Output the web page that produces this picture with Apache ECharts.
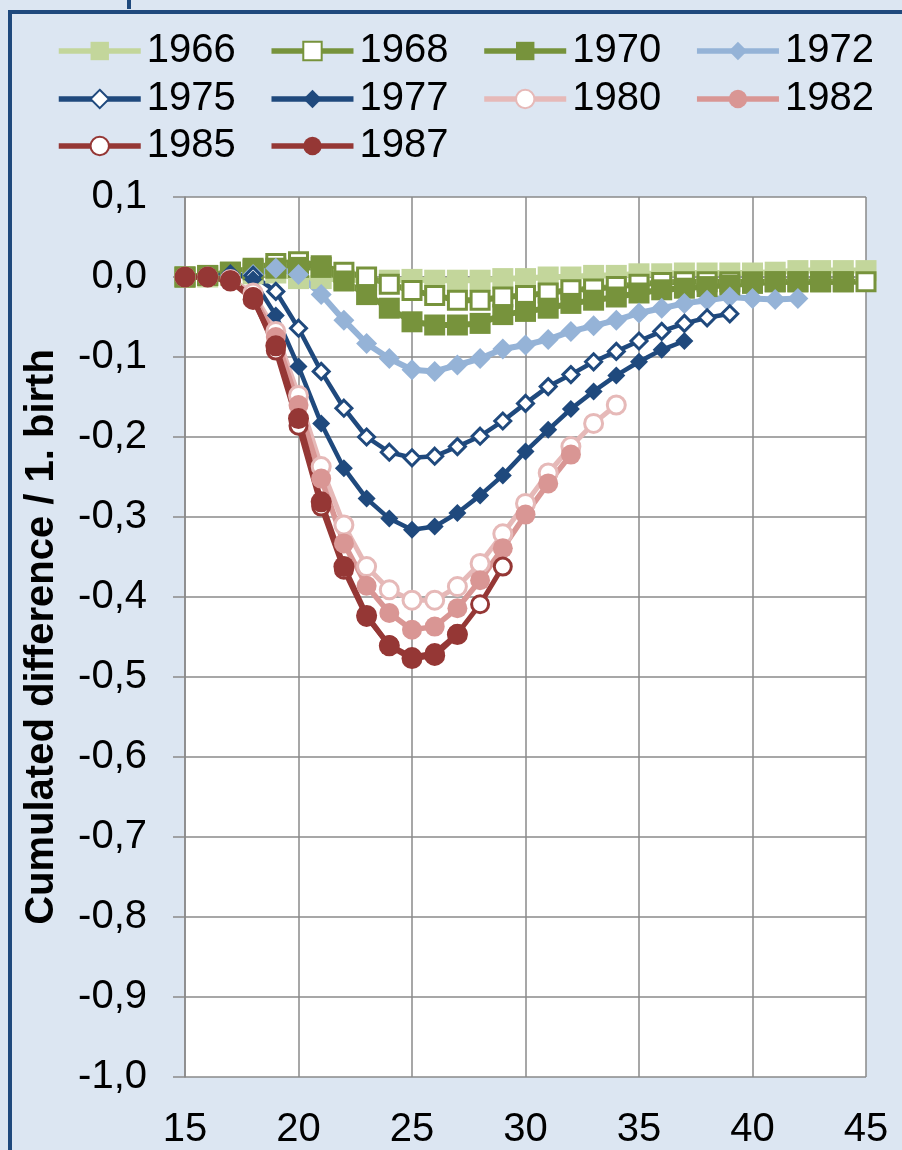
<!DOCTYPE html>
<html><head><meta charset="utf-8">
<script src="https://cdn.jsdelivr.net/npm/echarts@6/dist/echarts.min.js"></script>
<style>html,body{margin:0;padding:0;background:#dce6f2;}#c{width:902px;height:1150px;}</style>
</head><body><div id="c"></div>
<script>
// ---- data ----
const ages = [15,16,17,18,19,20,21,22,23,24,25,26,27,28,29,30,31,32,33,34,35,36,37,38,39,40,41,42,43,44,45];
const xTickLabels = ['15','20','25','30','35','40','45'];
const yTickLabels = ['0,1','0,0','-0,1','-0,2','-0,3','-0,4','-0,5','-0,6','-0,7','-0,8','-0,9','-1,0'];
const cohorts = ['1966','1968','1970','1972','1975','1977','1980','1982','1985','1987'];
const legendRows = [['1966','1968','1970','1972'],['1975','1977','1980','1982'],['1985','1987']];
const yAxisTitle = 'Cumulated difference / 1. birth';

const s1966 = [0,0,0.002,0.004,0.005,-0.002,-0.002,-0.003,-0.004,-0.004,-0.003,-0.004,-0.004,-0.004,-0.002,-0.002,0,0,0.002,0.002,0.004,0.004,0.005,0.005,0.005,0.005,0.006,0.008,0.008,0.008,0.008];
const s1968 = [0,0.002,0.006,0.011,0.017,0.019,0.014,0.006,0,-0.009,-0.017,-0.023,-0.029,-0.029,-0.025,-0.023,-0.02,-0.016,-0.015,-0.012,-0.009,-0.007,-0.006,-0.006,-0.006,-0.006,-0.006,-0.006,-0.006,-0.006,-0.006];
const s1970 = [0,0.002,0.006,0.009,0.011,0.012,0.012,-0.005,-0.022,-0.039,-0.056,-0.06,-0.06,-0.058,-0.047,-0.043,-0.039,-0.033,-0.029,-0.025,-0.02,-0.016,-0.014,-0.012,-0.01,-0.008,-0.006,-0.006,-0.006,-0.006];
const s1972 = [0,0,0.002,0.003,0.011,0.003,-0.022,-0.054,-0.083,-0.102,-0.116,-0.118,-0.11,-0.102,-0.09,-0.085,-0.078,-0.068,-0.061,-0.054,-0.045,-0.039,-0.033,-0.029,-0.025,-0.027,-0.028,-0.027];
const s1975 = [0,0,0.002,0.002,-0.018,-0.064,-0.118,-0.164,-0.2,-0.219,-0.226,-0.224,-0.212,-0.199,-0.18,-0.158,-0.137,-0.122,-0.106,-0.093,-0.08,-0.068,-0.058,-0.051,-0.046];
const s1977 = [0,0,0.005,-0.003,-0.048,-0.112,-0.183,-0.239,-0.277,-0.302,-0.316,-0.312,-0.295,-0.273,-0.248,-0.218,-0.191,-0.165,-0.143,-0.123,-0.106,-0.091,-0.08];
const s1980 = [0,0,-0.003,-0.02,-0.068,-0.148,-0.237,-0.31,-0.362,-0.391,-0.404,-0.404,-0.387,-0.358,-0.321,-0.283,-0.245,-0.212,-0.183,-0.16];
const s1982 = [0,0,-0.004,-0.025,-0.075,-0.16,-0.252,-0.333,-0.386,-0.42,-0.441,-0.437,-0.414,-0.379,-0.339,-0.297,-0.258,-0.222];
const s1985 = [0,0,-0.004,-0.025,-0.092,-0.186,-0.287,-0.366,-0.425,-0.46,-0.475,-0.47,-0.446,-0.409,-0.362];
const s1987 = [0,0,-0.005,-0.028,-0.086,-0.177,-0.281,-0.362,-0.423,-0.461,-0.477,-0.473,-0.447];

// ---- styles ----
const seriesValues = {'1966':s1966,'1968':s1968,'1970':s1970,'1972':s1972,'1975':s1975,'1977':s1977,'1980':s1980,'1982':s1982,'1985':s1985,'1987':s1987};
const styles = {
  '1966':{c:'#c3d69b',sym:'rect',size:21,hollow:false,lw:6},
  '1968':{c:'#77933c',sym:'rect',size:18,hollow:true,lw:6},
  '1970':{c:'#77933c',sym:'rect',size:21,hollow:false,lw:6},
  '1972':{c:'#95b3d7',sym:'diamond',size:21,hollow:false,lw:6},
  '1975':{c:'#1f497d',sym:'diamond',size:16,hollow:true,lw:4.5},
  '1977':{c:'#1f497d',sym:'diamond',size:18,hollow:false,lw:4.5},
  '1980':{c:'#e6b9b8',sym:'circle',size:18,hollow:true,lw:5},
  '1982':{c:'#d99694',sym:'circle',size:20,hollow:false,lw:5.5},
  '1985':{c:'#953735',sym:'circle',size:17,hollow:true,lw:5},
  '1987':{c:'#953735',sym:'circle',size:21,hollow:false,lw:5.5}
};
const FONT = '"Liberation Sans", Arial, sans-serif';

const series = cohorts.map(name => {
  const st = styles[name];
  const vals = seriesValues[name];
  return {
    name: name, type: 'line', clip: false,
    data: vals.map((v, i) => [ages[i], v]),
    symbol: st.sym, symbolSize: st.size, showSymbol: true,
    lineStyle: {color: st.c, width: st.lw},
    itemStyle: st.hollow ? {color: '#ffffff', borderColor: st.c, borderWidth: 3} : {color: st.c, borderWidth: 0},
    emphasis: {disabled: true},
    animation: false
  };
});

const legendTops = [31, 79, 126];
const legends = legendRows.map((row, i) => ({
  data: row.map(n => ({name: n, lineStyle: {width: 5.5}})),
  left: 56, top: legendTops[i], orient: 'horizontal', padding: 0,
  itemWidth: 82, itemHeight: 23, itemGap: 33, selectedMode: false,
  textStyle: {fontFamily: FONT, fontSize: 40, color: '#000', padding: [0,0,0,1]}
}));

const chart = echarts.init(document.getElementById('c'), null, {renderer: 'canvas'});
chart.setOption({
  backgroundColor: '#dce6f2',
  animation: false,
  graphic: [
    {type: 'rect', shape: {x: 8, y: 10, width: 4, height: 1140}, style: {fill: '#1f497d'}},
    {type: 'rect', shape: {x: 8, y: 10, width: 894, height: 4}, style: {fill: '#1f497d'}},
    {type: 'rect', shape: {x: 127, y: 0, width: 4, height: 9}, style: {fill: '#1f497d'}}
  ],
  legend: legends,
  grid: {left: 185, right: 36, top: 197, bottom: 73, backgroundColor: '#ffffff', show: true, borderWidth: 0},
  xAxis: {
    type: 'value', min: 15, max: 45, interval: 5,
    axisLine: {show: true, lineStyle: {color: '#8a8a8a', width: 1.5}},
    axisTick: {show: false},
    splitLine: {show: true, lineStyle: {color: '#8a8a8a', width: 1.5}},
    axisLabel: {fontFamily: FONT, fontSize: 40, color: '#000', margin: 33,
      formatter: v => { const i = xTickLabels.indexOf(String(Math.round(v))); return i >= 0 ? xTickLabels[i] : ''; }}
  },
  yAxis: {
    type: 'value', min: -1.0, max: 0.1, interval: 0.1,
    name: yAxisTitle, nameLocation: 'middle', nameGap: 123, nameRotate: 90,
    nameTextStyle: {fontFamily: FONT, fontSize: 40, fontWeight: 'bold', color: '#000'},
    axisLine: {show: true, onZero: false, lineStyle: {color: '#8a8a8a', width: 1.5}},
    axisTick: {show: true, inside: false, length: 12, lineStyle: {color: '#8a8a8a', width: 1.5}},
    splitLine: {show: true, lineStyle: {color: '#8a8a8a', width: 1.5}},
    axisLabel: {fontFamily: FONT, fontSize: 40, color: '#000', margin: 38,
      formatter: v => { const k = Math.round((0.1 - v) * 10); return yTickLabels[k] !== undefined ? yTickLabels[k] : ''; }}
  },
  series: series
});
</script>
</body></html>
